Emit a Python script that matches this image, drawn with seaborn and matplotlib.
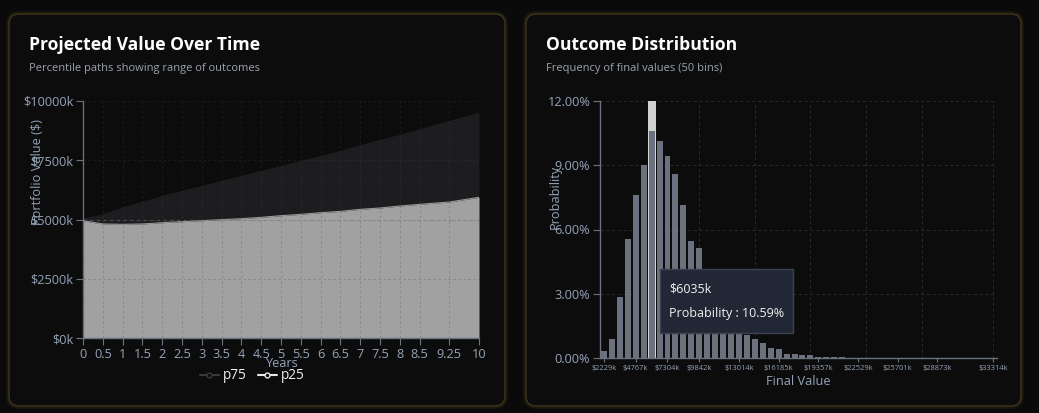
import matplotlib

matplotlib.use("Agg")
import matplotlib.pyplot as plt
import numpy as np
import pandas as pd
import seaborn as sns
from matplotlib.lines import Line2D
from matplotlib.patches import FancyBboxPatch, Rectangle
from matplotlib.transforms import IdentityTransform

# --- projected value paths (in $k), sampled at the x tick positions ---
years = [0, 0.5, 1, 1.5, 2, 2.5, 3, 3.5, 4, 4.5, 5, 5.5, 6, 6.5, 7, 7.5, 8, 8.5, 9.25, 10]
year_labels = ["0", "0.5", "1", "1.5", "2", "2.5", "3", "3.5", "4", "4.5", "5",
               "5.5", "6", "6.5", "7", "7.5", "8", "8.5", "9.25", "10"]
p75 = [5007, 5189, 5470, 5708, 5961, 6171, 6381, 6592, 6802, 7013, 7223,
       7433, 7644, 7854, 8093, 8317, 8527, 8766, 9116, 9467]
p25 = [4951, 4811, 4797, 4811, 4867, 4909, 4951, 4993, 5035, 5091, 5161,
       5217, 5287, 5343, 5428, 5484, 5568, 5638, 5736, 5933]
value_ticks = [0, 2500, 5000, 7500, 10000]
start_value = 5000

# --- final value histogram, 50 bins (probability in %) ---
bin_prob = [0.34, 0.92, 2.84, 5.54, 7.62, 9.02, 10.59, 10.11, 9.41, 8.57,
            7.13, 5.47, 5.16, 3.90, 3.00, 2.40, 1.90, 1.40, 1.10, 0.90,
            0.72, 0.47, 0.43, 0.22, 0.22, 0.14, 0.17, 0.08, 0.08, 0.08,
            0.05, 0.03, 0.03, 0.02, 0.02, 0.01, 0.01, 0.01, 0.01, 0.01,
            0.00, 0.01, 0.00, 0.00, 0.00, 0.00, 0.00, 0.00, 0.00, 0.01]
bin_tick_pos = [0, 4, 8, 12, 17, 22, 27, 32, 37, 42, 49]
bin_tick_labels = ["$2229k", "$4767k", "$7304k", "$9842k", "$13014k", "$16185k",
                   "$19357k", "$22529k", "$25701k", "$28873k", "$33314k"]
bin_grid_pos = [12, 19, 26, 33, 40, 49]
prob_ticks = [0, 3, 6, 9, 12]
hover_bin = 6
hover_value = "$6035k"

W, H = 1039, 413
BG = "#0a0a0a"
CARD = "#0c0c0c"
TICK = "#94a3b8"
AXIS = "#6b7280"
GRID = "#2a2a2a"

sns.set_theme(style="dark")
plt.rcParams["font.family"] = ["Open Sans", "DejaVu Sans"]

fig = plt.figure(figsize=(W / 100, H / 100), dpi=100, facecolor=BG)


def card(x0, y0, x1, y1):
    glow = FancyBboxPatch((x0, H - y1), x1 - x0, y1 - y0, boxstyle="round,pad=0,rounding_size=10",
                          transform=IdentityTransform(), fc="none", ec="#3a3214", lw=4, alpha=0.35, zorder=-6)
    box = FancyBboxPatch((x0, H - y1), x1 - x0, y1 - y0, boxstyle="round,pad=0,rounding_size=10",
                         transform=IdentityTransform(), fc=CARD, ec="#3f361a", lw=1, zorder=-5)
    fig.add_artist(glow)
    fig.add_artist(box)


card(9, 14, 505, 406)
card(526, 14, 1021, 406)

fig.text(29 / W, 1 - 45 / H, "Projected Value Over Time", color="white", fontsize=12.6,
         fontweight="bold", va="center", ha="left")
fig.text(29 / W, 1 - 68 / H, "Percentile paths showing range of outcomes", color="#9ca3af",
         fontsize=8, va="center", ha="left")
fig.text(546 / W, 1 - 45 / H, "Outcome Distribution", color="white", fontsize=12.6,
         fontweight="bold", va="center", ha="left")
fig.text(546 / W, 1 - 68 / H, "Frequency of final values (50 bins)", color="#9ca3af",
         fontsize=8, va="center", ha="left")


def style_axes(ax):
    ax.set_facecolor("none")
    for side in ("top", "right"):
        ax.spines[side].set_visible(False)
    for side in ("left", "bottom"):
        ax.spines[side].set_visible(True)
        ax.spines[side].set_color(AXIS)
        ax.spines[side].set_linewidth(1)
    ax.tick_params(axis="both", colors=TICK, color=AXIS, length=5, width=0.8, pad=2,
                   bottom=True, left=True)
    ax.grid(False)


# ---------------- left: projected value area chart ----------------
ax1 = fig.add_axes([83 / W, 1 - 338.3 / H, 396 / W, 237.6 / H])
style_axes(ax1)
ax1.fill_between(years, 0, p75, color="#1d1d20", lw=0, zorder=1)
ax1.fill_between(years, 0, p25, color="#a1a1a1", lw=0, zorder=2)
sns.lineplot(x=years, y=p75, ax=ax1, color="#222226", lw=0.8, zorder=2)
sns.lineplot(x=years, y=p25, ax=ax1, color="#979797", lw=0.8, zorder=3)
for x in years:
    ax1.axvline(x, color="#4a4a4a", lw=0.6, ls=(0, (3, 3)), alpha=0.3, zorder=3)
for y in value_ticks[1:]:
    ax1.axhline(y, color="#4a4a4a", lw=0.6, ls=(0, (3, 3)), alpha=0.3, zorder=3)
ax1.axhline(start_value, color="#7a7a7a", lw=0.8, ls=(0, (3, 3)), alpha=0.5, zorder=4)
ax1.text(5.03, 4895, "Start", color="#9aa5b5", alpha=0.2, fontsize=8, ha="center", va="center", zorder=4)
ax1.set_xlim(0, 10)
ax1.set_ylim(0, 10000)
ax1.set_xticks(years)
ax1.set_xticklabels(year_labels, fontsize=9.2)
ax1.set_yticks(value_ticks)
ax1.set_yticklabels([f"${v}k" for v in value_ticks], fontsize=9.2)
ax1.set_xlabel("")
ax1.set_ylabel("")
ax1.text(-0.114, 0.70, "Portfolio Value ($)", transform=ax1.transAxes, rotation=90,
         ha="center", va="center", color=TICK, fontsize=9.2)
ax1.text(0.5, -0.104, "Years", transform=ax1.transAxes, ha="center", va="center",
         color=TICK, fontsize=9.2)
handles = [
    Line2D([], [], color="#3a3a3a", marker="o", mfc=CARD, mec="#3a3a3a", ms=3.5, lw=1.5),
    Line2D([], [], color="#e8e8e8", marker="o", mfc=CARD, mec="#e8e8e8", ms=3.5, lw=1.5),
]
leg = ax1.legend(handles, ["p75", "p25"], loc="center", bbox_to_anchor=(0.427, -0.158), ncol=2,
                 frameon=False, fontsize=9.8, labelcolor="#f0f0f0", handlelength=1.4,
                 columnspacing=0.8, handletextpad=0.3)

# ---------------- right: outcome histogram ----------------
ax2 = fig.add_axes([600 / W, 1 - 358.3 / H, 397 / W, 257.6 / H])
df = pd.DataFrame({"bin": np.arange(len(bin_prob)), "prob": bin_prob})
for x in bin_grid_pos:
    ax2.axvline(x, color=GRID, lw=0.7, ls=(0, (3, 3)), zorder=0)
for y in prob_ticks[1:]:
    ax2.axhline(y, color=GRID, lw=0.7, ls=(0, (3, 3)), zorder=0)
ax2.axvspan(hover_bin - 0.5, hover_bin + 0.5, color="#d2d2d2", lw=0, zorder=0.5)
sns.barplot(data=df, x="bin", y="prob", color="#6c717f", width=0.75, saturation=1,
            edgecolor="none", linewidth=0, ax=ax2, zorder=2)
style_axes(ax2)
ax2.set_xlim(-0.5, len(bin_prob) - 0.5)
ax2.set_ylim(0, 12)
ax2.set_xticks(bin_tick_pos)
ax2.set_xticklabels(bin_tick_labels, fontsize=5.4)
ax2.set_yticks(prob_ticks)
ax2.set_yticklabels([f"{v:.2f}%" for v in prob_ticks], fontsize=9.2)
ax2.tick_params(axis="x", length=3, pad=1.5)
ax2.set_xlabel("")
ax2.set_ylabel("")
ax2.text(-0.113, 0.626, "Probability", transform=ax2.transAxes, rotation=90,
         ha="center", va="center", color=TICK, fontsize=9.2)
ax2.text(0.499, -0.092, "Final Value", transform=ax2.transAxes, ha="center", va="center",
         color=TICK, fontsize=9.2)

# tooltip for the hovered bin
tip = Rectangle((660, H - 333), 133, 64, transform=IdentityTransform(), fc="#212734",
                ec="#3b4352", lw=1, zorder=10)
fig.add_artist(tip)
fig.text(669 / W, 1 - 289 / H, hover_value, color="#f2f2f2", fontsize=9, va="center", ha="left", zorder=11)
fig.text(669 / W, 1 - 313 / H, f"Probability : {bin_prob[hover_bin]:.2f}%", color="#f2f2f2",
         fontsize=9, va="center", ha="left", zorder=11)

fig.savefig("out.png", dpi=100, facecolor=BG)
